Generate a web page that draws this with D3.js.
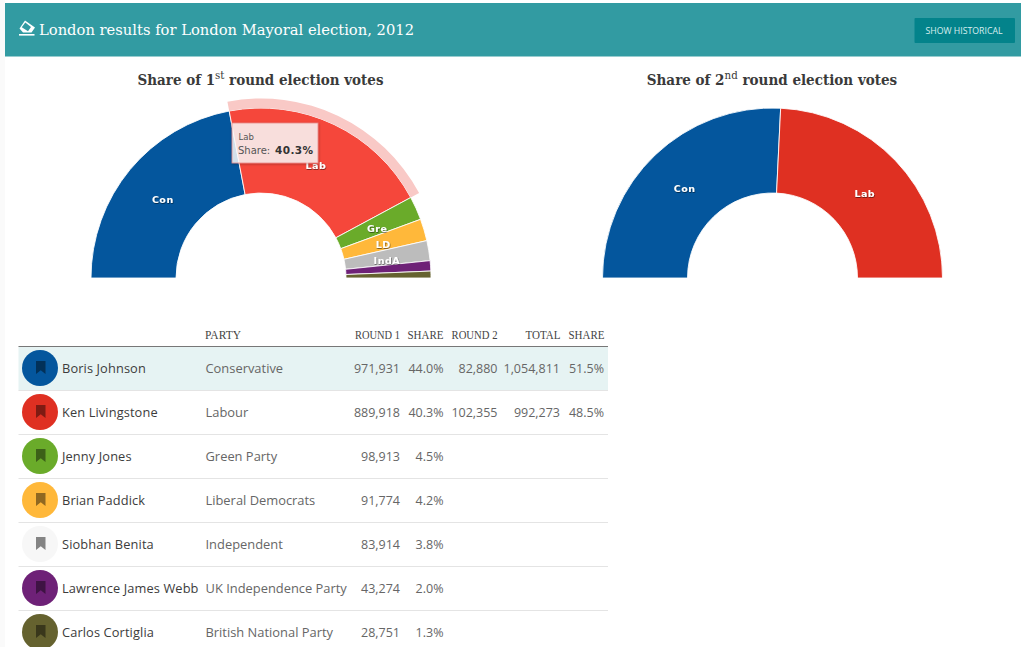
<!DOCTYPE html>
<html><head><meta charset="utf-8">
<script src="https://cdnjs.cloudflare.com/ajax/libs/d3/7.8.5/d3.min.js"></script>
<style>html,body{margin:0;padding:0;background:#fff;overflow:hidden}svg{display:block}</style>
</head><body><svg id="c" width="1024" height="658"></svg>
<script>
const candidates=["Boris Johnson","Ken Livingstone","Jenny Jones","Brian Paddick","Siobhan Benita","Lawrence James Webb","Carlos Cortiglia"];
const parties=["Conservative","Labour","Green Party","Liberal Democrats","Independent","UK Independence Party","British National Party"];
const shortNames=["Con","Lab","Gre","LD","IndA","UKIP","BNP"];
const round1=[971931,889918,98913,91774,83914,43274,28751];
const share1=[44.0,40.3,4.5,4.2,3.8,2.0,1.3];
const round2=[82880,102355,null,null,null,null,null];
const total=[1054811,992273,null,null,null,null,null];
const share2=[51.5,48.5,null,null,null,null,null];
const colours=["#04569d","#df3022","#6aab2a","#ffb83a","#bcbcbc","#6e2177","#65622f"];
const headers=["PARTY","ROUND 1","SHARE","ROUND 2","TOTAL","SHARE"];
const num=d3.format(",");
const pct=v=>v.toFixed(1)+"%";
const svg=d3.select("#c");
const slab="'DejaVu Serif',serif", sans="'Open Sans',sans-serif";

svg.append("rect").attr("x",0).attr("y",0).attr("width",5).attr("height",647).attr("fill","#fafafa");
svg.append("rect").attr("x",5).attr("y",3).attr("width",1016).attr("height",53.5).attr("fill","#329ba2");
// header icon: eraser above a base line
const ic=svg.append("g").attr("transform","translate(19,20)");
ic.append("path").attr("fill","#fff").attr("fill-rule","evenodd")
 .attr("d","M6 0.5 L16 7.5 L12.5 12.5 L4 12.5 L0.5 8.5 Z M6.3 2.6 L2.8 7.2 L9 11.2 L12 7 Z");
ic.append("rect").attr("x",0).attr("y",14).attr("width",15.5).attr("height",1.6).attr("fill","#fff");
svg.append("text").attr("x",39).attr("y",35).attr("font-family",slab).attr("font-size",15.5).attr("fill","#fff")
 .attr("textLength",375).attr("lengthAdjust","spacingAndGlyphs").text("London results for London Mayoral election, 2012");
svg.append("rect").attr("x",914.5).attr("y",18).attr("width",100.5).attr("height",25).attr("rx",1).attr("fill","#03838b");
svg.append("text").attr("x",964).attr("y",34).attr("text-anchor","middle").attr("font-family",sans).attr("font-size",9.5).attr("fill","#d8eeee")
 .attr("textLength",77).attr("lengthAdjust","spacingAndGlyphs").text("SHOW HISTORICAL");

function title(cx,n,sup,sx){
 const t=svg.append("text").attr("transform",`translate(${cx},85) scale(${sx},1)`).attr("text-anchor","middle").attr("font-family",slab).attr("font-weight",700).attr("font-size",14.5).attr("fill","#3a3a3a");
 t.append("tspan").text("Share of "+n);
 t.append("tspan").attr("dy",-6).attr("font-size",11).attr("font-weight",400).text(sup);
 t.append("tspan").attr("dy",6).text(" round election votes");
}
title(260.5,"1","st",0.93);
title(772,"2","nd",0.933);

const defs=svg.append("defs");
const f=defs.append("filter").attr("id","ts").attr("x","-30%").attr("y","-30%").attr("width","160%").attr("height","160%");
f.append("feDropShadow").attr("dx",0.5).attr("dy",0.8).attr("stdDeviation",0.6).attr("flood-color","#000").attr("flood-opacity",0.6);
const g2=defs.append("filter").attr("id","tip").attr("x","-10%").attr("y","-10%").attr("width","120%").attr("height","130%");
g2.append("feDropShadow").attr("dx",0.5).attr("dy",1).attr("stdDeviation",1).attr("flood-color","#000").attr("flood-opacity",0.3);

const R=170,r=85;
const pie=d3.pie().sort(null).startAngle(-Math.PI/2).endAngle(Math.PI/2);
const arc=d3.arc().innerRadius(r).outerRadius(R);
const ring=d3.arc().innerRadius(R).outerRadius(R+9.5);

function gauge(cx,values,names,cols,hover){
 const g=svg.append("g").attr("transform",`translate(${cx},278)`);
 const arcs=pie(values);
 g.selectAll("path.s").data(arcs).join("path").attr("class","s").attr("d",arc)
  .attr("fill",(d,i)=>i===hover?"#f5473b":cols[i]).attr("stroke","#fff").attr("stroke-width",1).attr("stroke-opacity",0.85);
 if(hover!=null) g.append("path").attr("d",ring(arcs[hover])).attr("fill","#f9c9c6");
 const tot=d3.sum(values);
 g.selectAll("text").data(arcs.filter(d=>d.value/tot>0.03)).join("text")
  .attr("x",d=>arc.centroid(d)[0]).attr("y",d=>arc.centroid(d)[1]+6.5)
  .attr("text-anchor","middle").attr("font-family","'DejaVu Sans',sans-serif").attr("font-weight",700).attr("font-size",9.5).attr("letter-spacing",0.5)
  .attr("fill","#fff").attr("filter","url(#ts)").text(d=>names[d.index]);
 return g;
}
gauge(261,round1,shortNames,colours,1);
gauge(772.5,[total[0],total[1]],shortNames,colours,null);

// tooltip
const tip=svg.append("g").attr("transform","translate(232,123)");
tip.append("rect").attr("width",86).attr("height",40).attr("fill","#fff").attr("fill-opacity",0.8).attr("stroke","#e58a88").attr("stroke-width",0.8).attr("filter","url(#tip)");
tip.append("text").attr("x",6.5).attr("y",17).attr("font-family","'DejaVu Sans',sans-serif").attr("font-size",8.5).attr("fill","#555").text(shortNames[1]);
tip.append("text").attr("x",6).attr("y",30.5).attr("font-family","'DejaVu Sans',sans-serif").attr("font-size",10).attr("fill","#555").text("Share:");
tip.append("text").attr("x",43).attr("y",30.5).attr("font-family","'DejaVu Sans',sans-serif").attr("font-weight",700).attr("font-size",10.5).attr("letter-spacing",0.4).attr("fill","#333").text(pct(share1[1]));

// table
const y=d3.scaleBand().domain(d3.range(7)).range([346.5,654.5]);
const tl=18.5,tr=608;
const clip=defs.append("clipPath").attr("id","pg");
clip.append("rect").attr("x",0).attr("y",0).attr("width",1024).attr("height",647);
const tb=svg.append("g").attr("clip-path","url(#pg)");
tb.append("rect").attr("x",tl).attr("y",y(0)).attr("width",tr-tl).attr("height",y.bandwidth()).attr("fill","#e6f3f3");
tb.selectAll("line.b").data(d3.range(6)).join("line").attr("class","b").attr("x1",tl).attr("x2",tr)
 .attr("y1",i=>y(i)+y.bandwidth()).attr("y2",i=>y(i)+y.bandwidth()).attr("stroke","#e4e4e4").attr("stroke-width",1);
svg.append("line").attr("x1",tl).attr("x2",tr).attr("y1",346.5).attr("y2",346.5).attr("stroke","#777").attr("stroke-width",1);

const headPos=[[205,"start",36],[400,"end",45],[443.5,"end",36],[497.5,"end",46],[560.5,"end",35],[604.5,"end",36]];
svg.selectAll("text.h").data(headers).join("text").attr("class","h")
 .attr("x",(d,i)=>headPos[i][0]).attr("y",338.5).attr("text-anchor",(d,i)=>headPos[i][1])
 .attr("font-family","'Liberation Serif',serif").attr("font-size",12).attr("fill","#444")
 .attr("textLength",(d,i)=>headPos[i][2]).attr("lengthAdjust","spacingAndGlyphs").text(d=>d);

const rows=tb.selectAll("g.r").data(d3.range(7)).join("g").attr("class","r")
 .attr("transform",i=>`translate(0,${y(i)+y.bandwidth()/2-0.5})`);
const disc=i=>i===4?"#f7f7f7":colours[i];
const icon=i=>i===4?"#848484":d3.color(colours[i]).darker(1.6).formatHex();
rows.append("circle").attr("cx",40).attr("cy",0).attr("r",18).attr("fill",disc);
rows.append("path").attr("transform","translate(36,-7)").attr("d","M0 0H9.5V13L4.75 9.3 0 13Z").attr("fill",icon);
const body=(sel)=>sel.attr("y",4.5).attr("font-family",sans).attr("font-size",12.5);
body(rows.append("text")).attr("x",62).attr("fill","#3c3c3c").attr("font-weight",500).attr("font-size",12.8).attr("letter-spacing",0.12).text(i=>candidates[i]);
body(rows.append("text")).attr("x",205.5).attr("fill","#666").attr("font-size",12.9).text(i=>parties[i]);
const cols=[[400,round1,num],[443.5,share1,pct],[497.5,round2,num],[560,total,num],[604,share2,pct]];
cols.forEach(([x,arr,fmt])=>{
 body(rows.filter(i=>arr[i]!=null).append("text")).attr("x",x).attr("text-anchor","end").attr("fill","#666").text(i=>fmt(arr[i]));
});
</script></body></html>
